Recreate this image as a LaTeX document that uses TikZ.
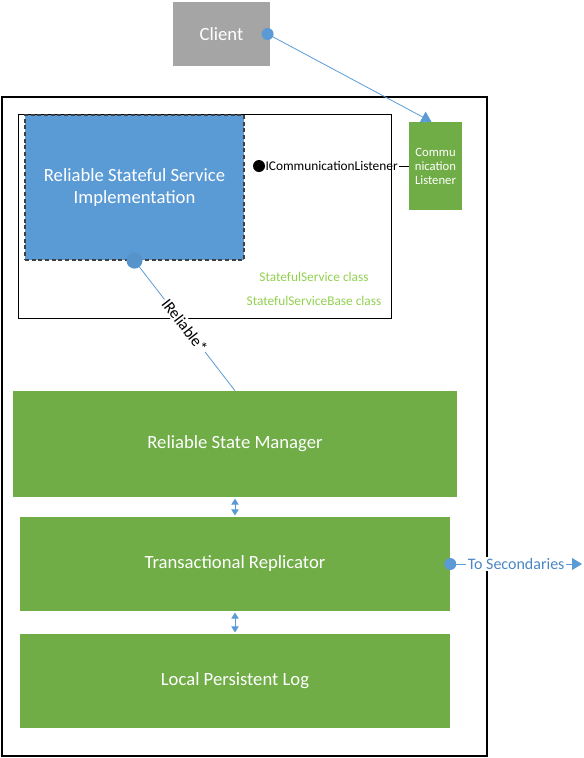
\documentclass[tikz,border=0pt]{standalone}
\usepackage{fontspec}
\setmainfont{Carlito}
\usetikzlibrary{arrows.meta}

\definecolor{msgreen}{HTML}{70AD47}
\definecolor{msblue}{HTML}{5B9BD5}
\definecolor{msgray}{HTML}{A5A5A5}
\definecolor{classgreen}{HTML}{92D050}
\definecolor{labelblue}{HTML}{4A86C5}

\begin{document}
\begin{tikzpicture}[x=0.75pt,y=-0.75pt,
  layerbox/.style={fill=msgreen,draw=none,text=white,font=\fontsize{14}{16.5}\selectfont},
  blueline/.style={draw=msblue,line width=0.6pt},
  bluetip/.style={-{Triangle[width=9pt,length=7.5pt,fill=msblue]}},
  smalltips/.style={{Triangle[width=5.5pt,length=4.5pt]}-{Triangle[width=5.5pt,length=4.5pt]}},
  classlabel/.style={text=classgreen,font=\fontsize{10}{12}\selectfont,inner sep=0pt}]
\useasboundingbox (0,0) rectangle (584,758);
%\draw[step=50,gray,very thin] (0,0) grid (584,758); %background grid

% client
\node[fill=msgray,text=white,minimum width=72.75pt,minimum height=48pt,inner sep=0pt,
  font=\fontsize{14}{16}\selectfont] (client) at (221.5,34) {Client};

% service host and service classes
\draw[line width=1.5pt] (2,97) rectangle (487,756);
\draw[line width=0.75pt] (18,114) rectangle (391,318);
\node[fill=msblue,draw=black!75,dash pattern=on 3pt off 2pt,line width=0.9pt,text=white,
  align=center,minimum width=164.25pt,minimum height=108.75pt,inner sep=0pt,
  font=\fontsize{14}{16.5}\selectfont] (impl) at (134.5,187.5)
  {Reliable Stateful Service\\Implementation};
\node[classlabel] (statefulsvc) at (314,277) {StatefulService class};
\node[classlabel] (statefulbase) at (314,301) {StatefulServiceBase class};

% communication listener
\node[fill=msgreen,text=white,align=center,minimum width=39.75pt,minimum height=66pt,
  inner sep=0pt,font=\fontsize{9.5}{10.5}\selectfont] (listener) at (435.5,166)
  {Commu\\nication\\Listener};
\node[anchor=west,inner sep=1pt,font=\fontsize{10}{12}\selectfont] (icl) at (264,166)
  {ICommunicationListener};
\fill[black] (icl.west) ++(-5,0) coordinate (icldot) circle (4.5pt);
\draw[line width=0.6pt] (icldot) -- (icl.west);
\draw[line width=0.6pt] (icl.east) -- (listener.west);

% layers
\node[layerbox,minimum width=333pt,minimum height=79.5pt] (rsm) at (235,444) {Reliable State Manager};
\node[layerbox,minimum width=322.5pt,minimum height=70.5pt] (repl) at (235,564) {Transactional Replicator};
\node[layerbox,minimum width=322.5pt,minimum height=70.5pt] (log) at (235,681) {Local Persistent Log};

% connectors
\coordinate (clientdot) at ([xshift=-2]client.east);
\draw[blueline,bluetip] (clientdot) -- ([xshift=-3]listener.north);
\fill[msblue] (clientdot) circle (4.5pt);

\draw[blueline] (impl.south) -- node[sloped,fill=white,inner sep=1pt,
  font=\fontsize{12}{14}\selectfont] {IReliable*} (rsm.north);
\fill[msblue!95!black] (impl.south) circle (6pt);

\draw[blueline,smalltips,shorten <=1pt,shorten >=1pt] (rsm.south) -- (repl.north);
\draw[blueline,smalltips,shorten <=1pt,shorten >=1pt] (repl.south) -- (log.north);

\coordinate (secondaries) at (582,564);
\draw[blueline,bluetip] (repl.east) -- node[fill=white,inner sep=1pt,text=labelblue,
  font=\fontsize{12}{14}\selectfont] (tosec) {To Secondaries} (secondaries);
\fill[msblue] (repl.east) circle (4.5pt);

\end{tikzpicture}
\end{document}
